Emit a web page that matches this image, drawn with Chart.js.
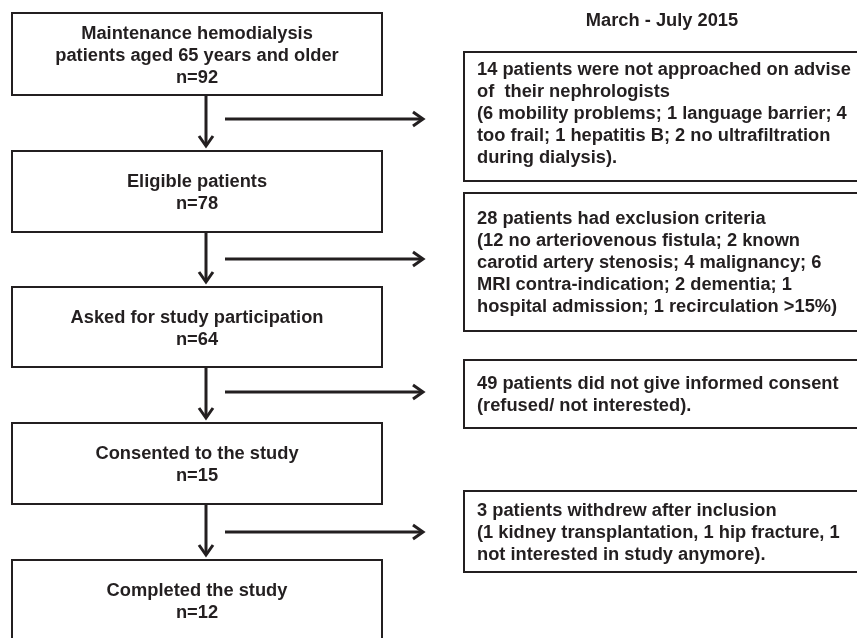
<!DOCTYPE html>
<html>
<head>
<meta charset="utf-8">
<script src="https://cdn.jsdelivr.net/npm/chart.js@4.4.1/dist/chart.umd.min.js"></script>
<style>
  html, body { margin: 0; padding: 0; background: #ffffff; }
  #wrap { width: 857px; height: 638px; position: relative; }
</style>
</head>
<body>
<div id="wrap"><canvas id="c" width="857" height="638"></canvas></div>
<script>
// ---- data ----
const period = 'March - July 2015';
const stageLabels = [
  ['Maintenance hemodialysis', 'patients aged 65 years and older'],
  ['Eligible patients'],
  ['Asked for study participation'],
  ['Consented to the study'],
  ['Completed the study']
];
const stageN = [92, 78, 64, 15, 12];
const excludedN = [14, 28, 49, 3];
const excludedLines = [
  [' patients were not approached on advise', 'of  their nephrologists', '(6 mobility problems; 1 language barrier; 4', 'too frail; 1 hepatitis B; 2 no ultrafiltration', 'during dialysis).'],
  [' patients had exclusion criteria', '(12 no arteriovenous fistula; 2 known', 'carotid artery stenosis; 4 malignancy; 6', 'MRI contra-indication; 2 dementia; 1', 'hospital admission; 1 recirculation >15%)'],
  [' patients did not give informed consent', '(refused/ not interested).'],
  [' patients withdrew after inclusion', '(1 kidney transplantation, 1 hip fracture, 1', 'not interested in study anymore).']
];

// ---- layout (scale units) ----
const mainX = [12, 382];
const mainTop = [13, 151, 287, 423, 560];
const mainBottom = [95, 232, 367, 504, 660];
const sideX = [464, 870];
const sideTop = [52, 193, 360, 491];
const sideBottom = [181, 331, 428, 572];
const sideTextShift = [-3, 1, 1, 1.5];
const arrowY = [119, 259, 392, 532];
const arrowX = [225, 423];
const spineX = 206;
const lineH = 22;
const ink = '#231f20';
const font = 'bold 18.3px "Liberation Sans", Arial, sans-serif';

const flowPlugin = {
  id: 'flow',
  afterDraw(chart) {
    const ctx = chart.ctx;
    const sx = chart.scales.x, sy = chart.scales.y;
    const X = v => sx.getPixelForValue(v);
    const Y = v => sy.getPixelForValue(v);
    ctx.save();
    ctx.strokeStyle = ink;
    ctx.fillStyle = ink;
    ctx.font = font;
    ctx.textBaseline = 'middle';

    // title
    ctx.textAlign = 'center';
    ctx.fillText(period, X(662), Y(21));

    // main boxes
    ctx.lineWidth = 2;
    stageLabels.forEach((lab, i) => {
      const x0 = X(mainX[0]), x1 = X(mainX[1]);
      const y0 = Y(mainTop[i]), y1 = Y(mainBottom[i]);
      ctx.strokeRect(x0, y0, x1 - x0, y1 - y0);
      const lines = lab.concat(['n=' + stageN[i]]);
      const cy = i === stageLabels.length - 1 ? Y(602) : (y0 + y1) / 2 + 1.5;
      const start = cy - (lines.length - 1) * lineH / 2;
      ctx.textAlign = 'center';
      lines.forEach((t, k) => ctx.fillText(t, (x0 + x1) / 2, start + k * lineH));
    });

    // vertical arrows
    ctx.lineWidth = 3;
    for (let i = 0; i < stageN.length - 1; i++) {
      const xa = X(spineX);
      const ya = Y(mainBottom[i]), yb = Y(mainTop[i + 1]) - 5;
      ctx.beginPath(); ctx.moveTo(xa, ya); ctx.lineTo(xa, yb - 1); ctx.stroke();
      ctx.beginPath();
      ctx.moveTo(xa - 7, yb - 10); ctx.lineTo(xa, yb); ctx.lineTo(xa + 7, yb - 10);
      ctx.stroke();
    }
    // horizontal arrows
    arrowY.forEach(v => {
      const y = Y(v), xa = X(arrowX[0]), xb = X(arrowX[1]);
      ctx.beginPath(); ctx.moveTo(xa, y); ctx.lineTo(xb - 1, y); ctx.stroke();
      ctx.beginPath();
      ctx.moveTo(xb - 10, y - 7); ctx.lineTo(xb, y); ctx.lineTo(xb - 10, y + 7);
      ctx.stroke();
    });

    // side boxes
    ctx.lineWidth = 2;
    excludedN.forEach((n, i) => {
      const x0 = X(sideX[0]), x1 = X(sideX[1]);
      const y0 = Y(sideTop[i]), y1 = Y(sideBottom[i]);
      ctx.strokeRect(x0, y0, x1 - x0, y1 - y0);
      const lines = excludedLines[i].slice();
      lines[0] = n + lines[0];
      const cy = (y0 + y1) / 2 + sideTextShift[i];
      const start = cy - (lines.length - 1) * lineH / 2;
      ctx.textAlign = 'left';
      lines.forEach((t, k) => ctx.fillText(t, x0 + 13, start + k * lineH));
    });
    ctx.restore();
  }
};

new Chart(document.getElementById('c'), {
  type: 'scatter',
  data: { datasets: [{ data: [], pointRadius: 0 }] },
  options: {
    responsive: false,
    animation: false,
    layout: { padding: 0 },
    plugins: { legend: { display: false }, tooltip: { enabled: false } },
    scales: {
      x: { type: 'linear', min: 0, max: 857, display: false },
      y: { type: 'linear', min: 0, max: 638, reverse: true, display: false }
    }
  },
  plugins: [flowPlugin]
});
</script>
</body>
</html>
